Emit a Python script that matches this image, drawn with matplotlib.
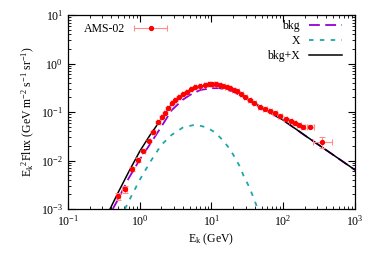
import matplotlib
matplotlib.use("Agg")
import matplotlib.pyplot as plt
from matplotlib.ticker import LogLocator, NullFormatter
from matplotlib.legend_handler import HandlerErrorbar
import numpy as np

plt.rcParams['font.family'] = ['Liberation Serif', 'DejaVu Serif']
plt.rcParams['mathtext.fontset'] = 'custom'
plt.rcParams['mathtext.rm'] = 'Liberation Serif'
plt.rcParams['mathtext.it'] = 'Liberation Serif:italic'

# AMS-02 data points (E in GeV, E^2 * flux)
ams_E = [0.50, 0.62, 0.77, 0.94, 1.12, 1.35, 1.55, 1.82, 2.05, 2.25, 2.5, 2.79,
         3.1, 3.56, 4.0, 4.51, 5.2, 5.89, 6.9, 8.1, 9.2, 10.3, 11.6, 13.0, 14.6,
         16.3, 18.2, 20.5, 23.0, 26.0, 29.5, 34.0, 39.5, 47.0, 56.0, 66.0, 77.0,
         90.0, 108, 127, 145, 166, 190, 236, 343]
ams_F = [0.00185, 0.00258, 0.0066, 0.0102, 0.0157, 0.0252, 0.039, 0.063, 0.078,
         0.094, 0.12, 0.151, 0.175, 0.207, 0.235, 0.262, 0.295, 0.323, 0.345,
         0.360, 0.372, 0.377, 0.372, 0.362, 0.348, 0.333, 0.315, 0.29, 0.265,
         0.236, 0.208, 0.177, 0.152, 0.129, 0.115, 0.105, 0.097, 0.084, 0.0718,
         0.065, 0.060, 0.054, 0.0498, 0.0498, 0.0244]
ams_Elo = [0.03, 0.05, 0.04, 0.05, 0.05, 0.06, 0.07, 0.08, 0.08, 0.09, 0.1, 0.1,
           0.1, 0.12, 0.13, 0.15, 0.17, 0.2, 0.25, 0.3, 0.35, 0.4, 0.45, 0.5, 0.6,
           0.7, 0.8, 0.9, 1.0, 1.2, 1.4, 1.6, 2.0, 2.5, 3.0, 3.5, 4.0, 5.0, 6.0,
           7.0, 8.0, 10, 12, 24, 81]
ams_Ehi = [0.03, 0.05, 0.04, 0.05, 0.05, 0.06, 0.07, 0.08, 0.08, 0.09, 0.1, 0.1,
           0.1, 0.12, 0.13, 0.15, 0.17, 0.2, 0.25, 0.3, 0.35, 0.4, 0.45, 0.5, 0.6,
           0.7, 0.8, 0.9, 1.0, 1.2, 1.4, 1.6, 2.0, 2.5, 3.0, 3.5, 4.0, 5.0, 6.0,
           7.0, 8.0, 10, 12, 32, 130]
ams_dF = [0.0003, 0.0004, 0.0006, 0.0008, 0.001, 0.0015, 0.002, 0.003, 0.003,
          0.004, 0.004, 0.005, 0.005, 0.006, 0.007, 0.007, 0.008, 0.008, 0.009,
          0.009, 0.009, 0.009, 0.009, 0.009, 0.009, 0.009, 0.008, 0.008, 0.007,
          0.007, 0.006, 0.005, 0.005, 0.004, 0.004, 0.004, 0.004, 0.003, 0.003,
          0.003, 0.003, 0.003, 0.004, 0.004, 0.0065]

# model curves
bkg_E = [0.42, 0.5, 0.7, 1.0, 1.4, 2.0, 2.8, 4.0, 5.0, 7.0, 10, 13, 20, 30, 50,
         100, 200, 500, 1000]
bkg_F = [0.001, 0.0016, 0.0043, 0.0105, 0.022, 0.050, 0.11, 0.18, 0.224, 0.285,
         0.31, 0.31, 0.265, 0.19, 0.12, 0.068, 0.033, 0.013, 0.0064]

x_E = [0.62, 0.71, 1.0, 1.4, 2.0, 2.8, 4.0, 6.0, 8.6, 11.2, 14.3, 17.7, 21.3,
       25, 28.4, 32.6, 37.5, 41.7, 44]
x_F = [0.001, 0.0015, 0.004, 0.0094, 0.021, 0.034, 0.048, 0.055, 0.048, 0.038,
       0.0265, 0.0178, 0.0114, 0.0074, 0.0046, 0.0031, 0.0019, 0.00126, 0.001]

tot_E = [0.385, 0.5, 0.7, 1.0, 1.4, 2.0, 2.8, 4.0, 5.0, 7.0, 10, 13, 20, 30, 50,
         65, 100, 200, 500, 1000]
tot_F = [0.001, 0.0022, 0.0058, 0.0155, 0.034, 0.072, 0.148, 0.232, 0.28, 0.335,
         0.36, 0.35, 0.29, 0.20, 0.125, 0.10, 0.068, 0.033, 0.013, 0.0064]

fig = plt.figure(figsize=(3.74, 2.62), dpi=100)
ax = fig.add_axes([0.182, 0.2023, 0.767, 0.7404])

ax.plot(bkg_E, bkg_F, color='#9400d3', lw=1.3, dashes=(6, 3), zorder=2)
ax.plot(x_E, x_F, color='#1fa6a8', lw=1.3, dashes=(2.5, 3.5), zorder=2)
ax.plot(tot_E, tot_F, color='black', lw=1.1, zorder=3)

E = np.array(ams_E)
ax.errorbar(E, ams_F, xerr=[ams_Elo, ams_Ehi], yerr=ams_dF, fmt='none',
            ecolor='#ff8c8c', elinewidth=0.8, capsize=2, capthick=0.8, zorder=4)
ax.plot(E, ams_F, 'o', color='#ff0000', ms=2.8, zorder=5)

# legend proxies
h_ams = ax.errorbar([np.nan], [np.nan], xerr=[1], fmt='o', color='#ff0000', ms=2.8,
                    ecolor='#ff8c8c', elinewidth=0.8, capsize=2, capthick=0.8)
h_bkg, = ax.plot([], [], color='#9400d3', lw=1.3, dashes=(6, 3))
h_x, = ax.plot([], [], color='#1fa6a8', lw=1.3, dashes=(2.5, 3.5))
h_tot, = ax.plot([], [], color='black', lw=1.1)

leg1 = ax.legend([h_ams], ['AMS-02'], loc='upper left', frameon=False,
                 markerfirst=False, fontsize=8.5, handlelength=2.8,
                 borderaxespad=0.3, bbox_to_anchor=(0.025, 1.0),
                 handler_map={type(h_ams): HandlerErrorbar(xerr_size=1.4)})
ax.add_artist(leg1)
ax.legend([h_bkg, h_x, h_tot], ['bkg', 'X', 'bkg+X'], loc='upper right',
          frameon=False, markerfirst=False, fontsize=8.5, handlelength=2.8,
          labelspacing=0.25, borderaxespad=0.3, bbox_to_anchor=(0.985, 1.015))

ax.set_xscale('log')
ax.set_yscale('log')
ax.set_xlim(0.1, 1000)
ax.set_ylim(1e-3, 10)

ax.xaxis.set_major_locator(LogLocator(base=10, numticks=10))
ax.xaxis.set_minor_locator(LogLocator(base=10, subs=np.arange(2, 10), numticks=20))
ax.yaxis.set_major_locator(LogLocator(base=10, numticks=10))
ax.yaxis.set_minor_locator(LogLocator(base=10, subs=np.arange(2, 10), numticks=20))
ax.xaxis.set_minor_formatter(NullFormatter())
ax.yaxis.set_minor_formatter(NullFormatter())
ax.tick_params(which='both', direction='in', top=True, right=True, labelsize=8.5)
ax.tick_params(which='major', length=5, width=0.8)
ax.tick_params(which='minor', length=2.5, width=0.6)
for s in ax.spines.values():
    s.set_linewidth(0.9)

ax.set_xlabel('E$_{\\rm k}$ (GeV)', fontsize=8.5, labelpad=2)
ax.set_ylabel('E$_{\\rm k}$$^2$Flux (GeV m$^{-2}$ s$^{-1}$ sr$^{-1}$)', fontsize=8.5,
              labelpad=3)

fig.savefig('out.png', dpi=100)
